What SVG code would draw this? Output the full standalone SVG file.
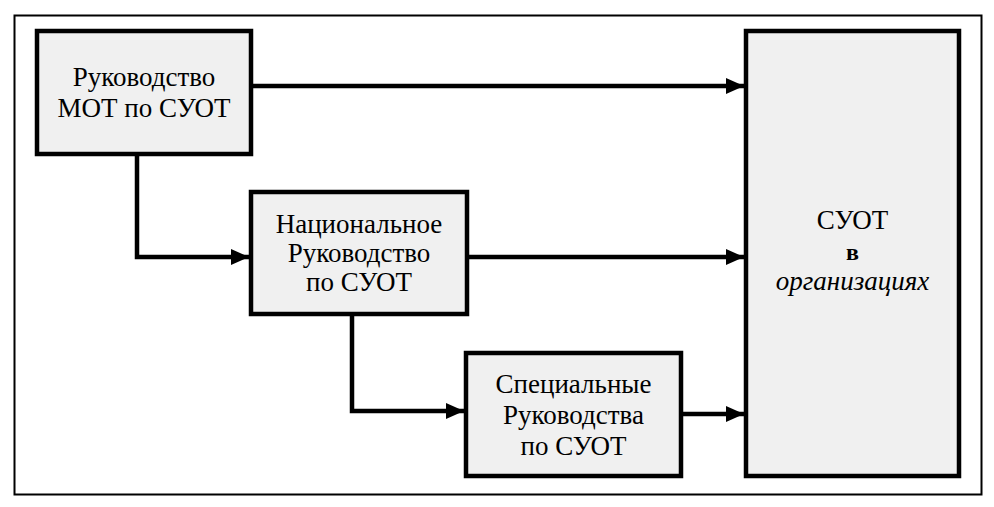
<svg xmlns="http://www.w3.org/2000/svg" width="994" height="507" viewBox="0 0 994 507">
<defs>
<marker id="ah" markerWidth="18" markerHeight="18" viewBox="0 0 18 18" refX="18" refY="9" orient="auto" markerUnits="userSpaceOnUse">
<path d="M0,1 L18,9 L0,17 Z" fill="#000"/>
</marker>
</defs>
<rect x="0" y="0" width="994" height="507" fill="#fff"/>
<rect x="14.5" y="15.5" width="967" height="479" fill="none" stroke="#000" stroke-width="2"/>
<g id="n1">
<rect x="37" y="31" width="214" height="123" fill="#f0f0f0" stroke="#000" stroke-width="4.5"/>
<text font-family="Liberation Serif" font-size="27" text-anchor="middle" x="144" y="86">Руководство</text>
<text font-family="Liberation Serif" font-size="27" text-anchor="middle" x="144" y="117">МОТ по СУОТ</text>
</g>
<g id="n2">
<rect x="251" y="192" width="216" height="122" fill="#f0f0f0" stroke="#000" stroke-width="4.5"/>
<text font-family="Liberation Serif" font-size="27" text-anchor="middle" x="359" y="233">Национальное</text>
<text font-family="Liberation Serif" font-size="27" text-anchor="middle" x="359" y="262">Руководство</text>
<text font-family="Liberation Serif" font-size="27" text-anchor="middle" x="359" y="291">по СУОТ</text>
</g>
<g id="n3">
<rect x="466" y="353" width="215" height="123" fill="#f0f0f0" stroke="#000" stroke-width="4.5"/>
<text font-family="Liberation Serif" font-size="27" text-anchor="middle" x="573.5" y="393">Специальные</text>
<text font-family="Liberation Serif" font-size="27" text-anchor="middle" x="573.5" y="424">Руководства</text>
<text font-family="Liberation Serif" font-size="27" text-anchor="middle" x="573.5" y="455">по СУОТ</text>
</g>
<g id="n4">
<rect x="746" y="31" width="213" height="445" fill="#f0f0f0" stroke="#000" stroke-width="4.5"/>
<text font-family="Liberation Serif" font-size="27" text-anchor="middle" x="852.5" y="229">СУОТ</text>
<text font-family="Liberation Serif" font-size="24" font-weight="bold" text-anchor="middle" x="852.5" y="260">в</text>
<text font-family="Liberation Serif" font-size="27" font-style="italic" text-anchor="middle" x="852.5" y="290">организациях</text>
</g>
<g id="connectors" fill="none" stroke="#000" stroke-width="4.5">
<line x1="251" y1="86" x2="744" y2="86" marker-end="url(#ah)"/>
<polyline points="137,154 137,257 249,257" marker-end="url(#ah)"/>
<line x1="467" y1="257" x2="744" y2="257" marker-end="url(#ah)"/>
<polyline points="352,314 352,411 464,411" marker-end="url(#ah)"/>
<line x1="681" y1="414" x2="744" y2="414" marker-end="url(#ah)"/>
</g>
</svg>
